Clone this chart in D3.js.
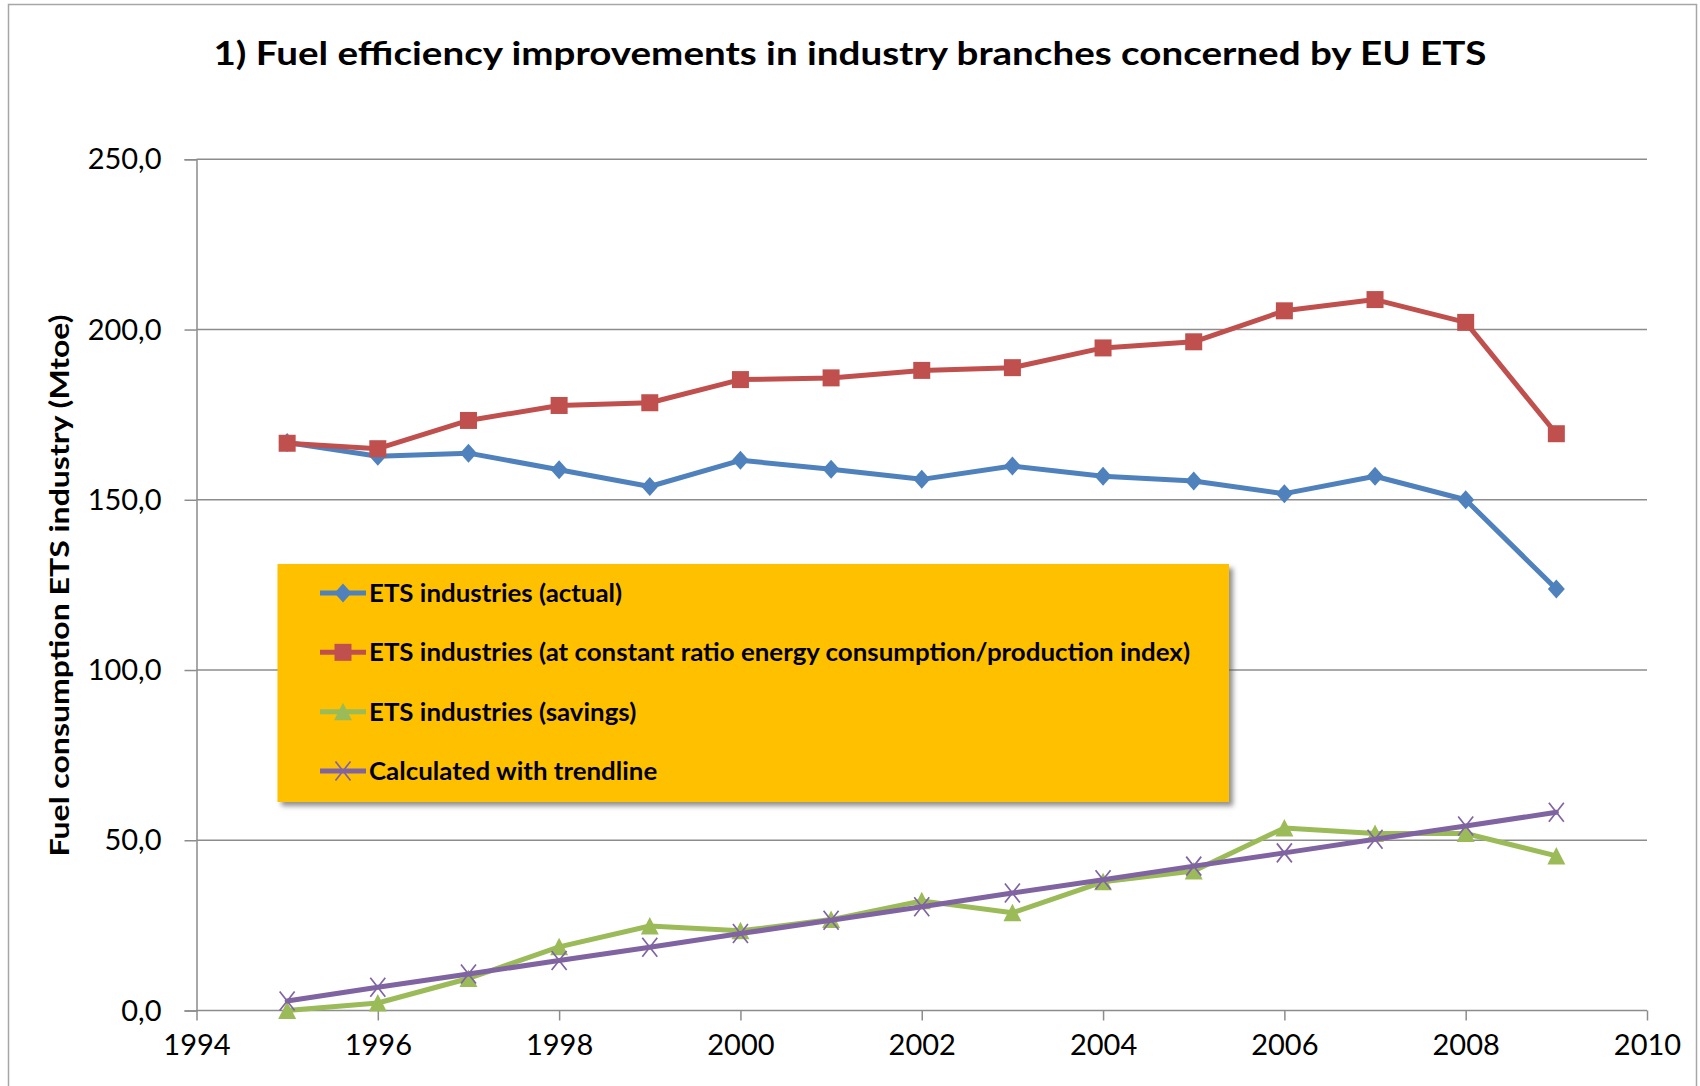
<!DOCTYPE html>
<html>
<head>
<meta charset="utf-8">
<script src="https://cdn.jsdelivr.net/npm/d3@7"></script>
<style>
  html, body { margin: 0; padding: 0; background: #ffffff; }
  svg { display: block; }
</style>
</head>
<body>
<svg id="chart" width="1700" height="1086"></svg>
<script>
// ---- data (Mtoe) ----
const years = [1995, 1996, 1997, 1998, 1999, 2000, 2001, 2002, 2003, 2004, 2005, 2006, 2007, 2008, 2009];
const actual = [166.8, 162.8, 163.7, 158.8, 153.9, 161.6, 159.0, 156.0, 159.9, 156.9, 155.5, 151.8, 156.9, 150.0, 123.8];
const constantRatio = [166.6, 165.0, 173.3, 177.7, 178.5, 185.3, 185.8, 188.0, 188.8, 194.6, 196.4, 205.5, 208.8, 202.1, 169.4];
const savings = [0.0, 2.2, 9.4, 18.7, 24.8, 23.4, 26.7, 32.2, 28.7, 37.8, 41.0, 53.6, 52.0, 52.0, 45.4];
const trendline = [2.8, 6.8, 10.7, 14.7, 18.6, 22.6, 26.5, 30.5, 34.5, 38.4, 42.4, 46.3, 50.3, 54.2, 58.2];

const xTicks = [1994, 1996, 1998, 2000, 2002, 2004, 2006, 2008, 2010];
const yTicks = [0, 50, 100, 150, 200, 250];

const seriesNames = [
  "ETS industries (actual)",
  "ETS industries (at constant ratio energy consumption/production index)",
  "ETS industries (savings)",
  "Calculated with trendline"
];
const seriesColors = ["#4F81BD", "#C0504D", "#9BBB59", "#8064A2"];
const seriesMarkers = ["diamond", "square", "triangle", "cross"];
const seriesValues = [actual, constantRatio, savings, trendline];

const chartTitle = "1) Fuel efficiency improvements in industry branches concerned by EU ETS";
const yAxisTitle = "Fuel consumption ETS industry (Mtoe)";

// ---- layout ----
const FONT = "Lato, 'Liberation Sans', Arial, sans-serif";
const plot = { left: 196.5, right: 1647, top: 159.3, bottom: 1010.5 };
const gridColor = "#8c8c8c";

const svg = d3.select("#chart");

const defs = svg.append("defs");
const shadow = defs.append("filter").attr("id", "legendShadow")
  .attr("x", "-5%").attr("y", "-5%").attr("width", "115%").attr("height", "125%");
shadow.append("feDropShadow")
  .attr("dx", 4).attr("dy", 4).attr("stdDeviation", 2.5)
  .attr("flood-color", "#555").attr("flood-opacity", 0.65);

// outer chart-area frame
svg.append("rect")
  .attr("x", 8.5).attr("y", 4.5).attr("width", 1688).attr("height", 1110)
  .attr("fill", "none").attr("stroke", "#a6a6a6").attr("stroke-width", 1.5);

const x = d3.scaleLinear().domain([1994, 2010]).range([plot.left, plot.right]);
const y = d3.scaleLinear().domain([0, 250]).range([plot.bottom, plot.top]);

const commaFormat = d3.formatLocale({ decimal: ",", thousands: ".", grouping: [3], currency: ["", "€"] }).format(".1f");

// horizontal gridlines
svg.append("g").selectAll("line")
  .data(yTicks.filter(d => d > 0))
  .join("line")
  .attr("x1", plot.left).attr("x2", plot.right)
  .attr("y1", d => y(d)).attr("y2", d => y(d))
  .attr("stroke", gridColor).attr("stroke-width", 1.5);

// y axis
const yAxis = d3.axisLeft(y).tickValues(yTicks).tickSize(12).tickPadding(23)
  .tickFormat(d => commaFormat(d));
const gy = svg.append("g").attr("transform", `translate(${plot.left},0)`).call(yAxis);
gy.select(".domain").attr("stroke", gridColor).attr("stroke-width", 1.5);
gy.selectAll(".tick line").attr("stroke", gridColor).attr("stroke-width", 1.5);
gy.selectAll(".tick text")
  .attr("font-family", FONT).attr("font-size", 29).attr("fill", "#000")
  .attr("dy", "0.33em");

// x axis
const xAxis = d3.axisBottom(x).tickValues(xTicks).tickSize(10).tickPadding(14)
  .tickFormat(d3.format("d"));
const gx = svg.append("g").attr("transform", `translate(0,${plot.bottom})`).call(xAxis);
gx.select(".domain").attr("stroke", gridColor).attr("stroke-width", 1.5)
  .attr("d", `M${plot.left},0H${plot.right}`);
gx.selectAll(".tick line").attr("stroke", gridColor).attr("stroke-width", 1.5);
gx.selectAll(".tick text")
  .attr("font-family", FONT).attr("font-size", 29).attr("fill", "#000")
  .attr("dy", "0.71em");

// marker shapes
function drawMarker(g, type, color) {
  if (type === "diamond") {
    g.append("path").attr("d", "M0,-9.5L8.5,0L0,9.5L-8.5,0Z").attr("fill", color);
  } else if (type === "square") {
    g.append("rect").attr("x", -8.5).attr("y", -8.5).attr("width", 17).attr("height", 17).attr("fill", color);
  } else if (type === "triangle") {
    g.append("path").attr("d", "M0,-9L9,8.5L-9,8.5Z").attr("fill", color);
  } else if (type === "cross") {
    g.append("path").attr("d", "M-7.5,-9.5L7.5,9.5M-7.5,9.5L7.5,-9.5")
      .attr("fill", "none").attr("stroke", color).attr("stroke-width", 1.7);
  }
}

// series lines and markers
const line = d3.line().x(d => x(d[0])).y(d => y(d[1]));
seriesValues.forEach((vals, i) => {
  const pts = years.map((yr, j) => [yr, vals[j]]);
  const g = svg.append("g");
  g.append("path").datum(pts)
    .attr("d", line)
    .attr("fill", "none")
    .attr("stroke", seriesColors[i])
    .attr("stroke-width", 5)
    .attr("stroke-linejoin", "round")
    .attr("stroke-linecap", "round");
  g.selectAll("g.mk").data(pts).join("g")
    .attr("class", "mk")
    .attr("transform", d => `translate(${x(d[0])},${y(d[1])})`)
    .each(function () { drawMarker(d3.select(this), seriesMarkers[i], seriesColors[i]); });
});

// legend
const legend = svg.append("g");
legend.append("rect")
  .attr("x", 277.5).attr("y", 564).attr("width", 951.5).attr("height", 238)
  .attr("fill", "#FFC000")
  .attr("filter", "url(#legendShadow)");

const rowY = d3.scaleLinear().domain([0, 3]).range([593, 771]);
const rows = legend.selectAll("g.row").data(seriesNames).join("g")
  .attr("class", "row")
  .attr("transform", (d, i) => `translate(0,${rowY(i)})`);
rows.append("line")
  .attr("x1", 320).attr("x2", 366).attr("y1", 0).attr("y2", 0)
  .attr("stroke", (d, i) => seriesColors[i]).attr("stroke-width", 5);
rows.append("g").attr("transform", "translate(343,0)")
  .each(function (d, i) { drawMarker(d3.select(this), seriesMarkers[i], seriesColors[i]); });
const legendTexts = rows.append("text")
  .attr("x", 369).attr("y", 9)
  .attr("font-family", FONT).attr("font-weight", "bold").attr("font-size", 24)
  .attr("fill", "#000")
  .text(d => d);

// compress the legend labels uniformly so the longest one spans 821px
const natural = legendTexts.nodes().map(n => n.getComputedTextLength());
const squeeze = 821 / d3.max(natural);
legendTexts.each(function (d, i) {
  d3.select(this).attr("textLength", natural[i] * squeeze).attr("lengthAdjust", "spacingAndGlyphs");
});

// chart title
svg.append("text")
  .attr("x", 850).attr("y", 65)
  .attr("text-anchor", "middle")
  .attr("font-family", FONT).attr("font-weight", "bold").attr("font-size", 33)
  .attr("fill", "#000")
  .attr("textLength", 1273).attr("lengthAdjust", "spacingAndGlyphs")
  .text(chartTitle);

// y axis title
svg.append("text")
  .attr("transform", "translate(69,585.5) rotate(-90)")
  .attr("text-anchor", "middle")
  .attr("font-family", FONT).attr("font-weight", "bold").attr("font-size", 26)
  .attr("fill", "#000")
  .attr("textLength", 542).attr("lengthAdjust", "spacingAndGlyphs")
  .text(yAxisTitle);
</script>
</body>
</html>
